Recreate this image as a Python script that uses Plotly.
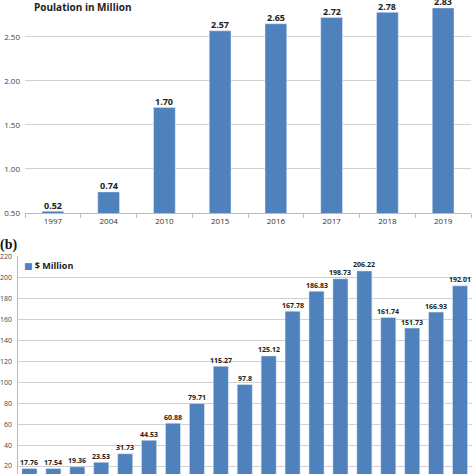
import plotly.graph_objects as go

years_a = ["1997", "2004", "2010", "2015", "2016", "2017", "2018", "2019"]
population = [0.52, 0.74, 1.70, 2.57, 2.65, 2.72, 2.78, 2.83]
pop_labels = ["0.52", "0.74", "1.70", "2.57", "2.65", "2.72", "2.78", "2.83"]

cats_b = [str(i) for i in range(1, 20)]
revenue = [17.76, 17.54, 19.36, 23.53, 31.73, 44.53, 60.88, 79.71, 115.27, 97.8,
           125.12, 167.78, 186.83, 198.73, 206.22, 161.74, 151.73, 166.93, 192.01]
rev_labels = ["17.76", "17.54", "19.36", "23.53", "31.73", "44.53", "60.88", "79.71", "115.27", "97.8",
              "125.12", "167.78", "186.83", "198.73", "206.22", "161.74", "151.73", "166.93", "192.01"]

W = H = 474
BLUE = "#4F81BD"
GRID = "#D0D0D0"
FONT = "Open Sans, DejaVu Sans, sans-serif"

fig = go.Figure()
fig.add_trace(go.Bar(
    x=years_a, y=population, marker_color=BLUE, showlegend=False,
    xaxis="x", yaxis="y", width=0.39,
))
fig.add_trace(go.Bar(
    x=cats_b, y=revenue, marker_color=BLUE, name="$ Million", showlegend=False,
    xaxis="x2", yaxis="y2", width=0.63,
))

annotations = [
    dict(text="<b>Poulation in Million</b>", x=32 / W, y=1 - 7 / H, xref="paper", yref="paper",
         xanchor="left", yanchor="middle", showarrow=False,
         font=dict(size=10, color="#222", family=FONT)),
    dict(text="<b>(b)</b>", x=-2 / W, y=1 - 245 / H, xref="paper", yref="paper",
         xanchor="left", yanchor="middle", showarrow=False,
         font=dict(size=14, color="#111", family="Liberation Serif, DejaVu Serif, serif")),
    dict(text="<span style='color:%s'>■</span> <b>$ Million</b>" % BLUE,
         x=22 / W, y=1 - 265 / H, xref="paper", yref="paper",
         xanchor="left", yanchor="middle", showarrow=False,
         font=dict(size=9, color="#222", family=FONT)),
]
for i, (v, t) in enumerate(zip(population, pop_labels)):
    annotations.append(dict(text="<b>%s</b>" % t, x=i, y=v, xref="x", yref="y",
                            yanchor="middle", yshift=6, showarrow=False,
                            font=dict(size=9, color="#222", family=FONT)))
for i, (v, t) in enumerate(zip(revenue, rev_labels)):
    annotations.append(dict(text="<b>%s</b>" % t, x=i, y=v, xref="x2", yref="y2",
                            yanchor="middle", yshift=6, showarrow=False,
                            font=dict(size=7, color="#222", family=FONT)))

fig.update_layout(
    width=W, height=H, margin=dict(l=0, r=0, t=0, b=0, autoexpand=False),
    paper_bgcolor="white", plot_bgcolor="white",
    font=dict(family=FONT, size=9, color="#444"),
    xaxis=dict(domain=[25 / W, 471 / W], anchor="y", type="category", automargin=False,
               range=[-0.5, len(years_a) - 0.5],
               showline=True, linecolor="#BBBBBB", ticks="outside", tickson="boundaries",
               ticklen=4, tickcolor="#BBBBBB", tickfont=dict(size=8, color="#333")),
    yaxis=dict(domain=[1 - 213 / H, 1], anchor="x", range=[0.5, 2.92], automargin=False,
               tickvals=[0.5, 1.0, 1.5, 2.0, 2.5], ticktext=["0.50", "1.00", "1.50", "2.00", "2.50"],
               gridcolor=GRID, gridwidth=1, zeroline=False, showline=False,
               tickfont=dict(size=8, color="#444"), ticks="", ticklabelstandoff=4),
    xaxis2=dict(domain=[17.5 / W, 472 / W], anchor="y2", type="category", automargin=False,
                range=[-0.5, len(cats_b) - 0.5],
                showticklabels=False, showline=False, ticks=""),
    yaxis2=dict(domain=[0, 1 - 256 / H], anchor="x2", range=[12.4, 220.5], automargin=False,
                tickvals=list(range(20, 221, 20)),
                gridcolor=GRID, gridwidth=1, zeroline=False, showline=True, linecolor="#BBBBBB",
                tickfont=dict(size=7, color="#444"), ticks="", ticklabelstandoff=3),
    bargap=0.4,
    annotations=annotations,
)

fig.write_html("out.html", config={"displayModeBar": False},
               post_script="document.body.style.margin='0';document.body.style.overflow='hidden';")
